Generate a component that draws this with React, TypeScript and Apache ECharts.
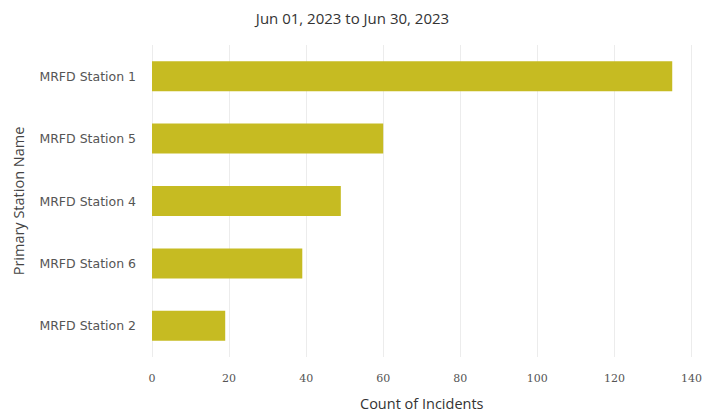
import React, { useEffect, useRef } from "react";
import * as echarts from "echarts";

const categories = ["MRFD Station 1", "MRFD Station 5", "MRFD Station 4", "MRFD Station 6", "MRFD Station 2"];
const counts = [135, 60, 49, 39, 19];
const titleText = "Jun 01, 2023 to Jun 30, 2023";

export default function App() {
  const ref = useRef<HTMLDivElement>(null);
  useEffect(() => {
    const chart = echarts.init(ref.current!, null, { renderer: "svg" });
    chart.setOption({
      animation: false,
      backgroundColor: "#ffffff",
      title: {
        text: titleText,
        left: "center",
        top: 5,
        textStyle: { fontFamily: "Open Sans", fontSize: 15, fontWeight: "normal", color: "#333" },
      },
      grid: { left: 152, right: 12, top: 45, bottom: 56, containLabel: false },
      xAxis: {
        type: "value",
        min: 0,
        max: 140,
        interval: 20,
        name: "Count of Incidents",
        nameLocation: "middle",
        nameGap: 39,
        nameTextStyle: { fontFamily: "Open Sans", fontSize: 14.5, color: "#333" },
        axisLine: { show: false },
        axisTick: { show: false },
        axisLabel: { margin: 16, fontFamily: "DejaVu Serif", fontSize: 11, color: "#555" },
        splitLine: { show: true, lineStyle: { color: "#ececec", width: 1 } },
      },
      yAxis: {
        type: "category",
        data: categories,
        inverse: true,
        name: "Primary Station Name",
        nameLocation: "middle",
        nameGap: 126,
        nameTextStyle: { fontFamily: "Open Sans", fontSize: 14.5, color: "#444" },
        axisLine: { show: false },
        axisTick: { show: false },
        axisLabel: { margin: 16, fontFamily: "DejaVu Sans", fontSize: 12.5, color: "#555" },
        splitLine: { show: false },
      },
      series: [
        {
          type: "bar",
          data: counts,
          barWidth: 30,
          itemStyle: { color: "#c6bb22" },
        },
      ],
    });
    return () => chart.dispose();
  }, []);
  return <div ref={ref} style={{ width: 705, height: 416, position: "absolute", left: 0, top: 0 }} />;
}
